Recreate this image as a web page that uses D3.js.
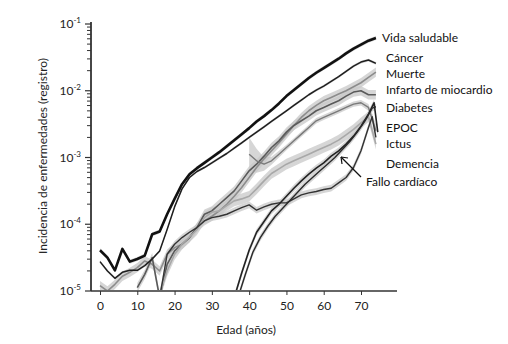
<!DOCTYPE html>
<html><head><meta charset="utf-8">
<script src="https://cdn.jsdelivr.net/npm/d3@7"></script>
<style>
html,body{margin:0;padding:0;background:#fff;}
svg{display:block;font-family:Lato,"Open Sans",sans-serif;}
</style></head>
<body><svg id="c" width="508" height="344"></svg>
<script>
// ---------- data (log10 of incidence) ----------
const agesFull = d3.range(0, 76, 2);
const vidaLog10 = [-4.39,-4.5,-4.69,-4.37,-4.56,-4.52,-4.47,-4.15,-4.11,-3.85,-3.62,-3.4,-3.25,-3.16,-3.08,-3.0,-2.92,-2.83,-2.74,-2.65,-2.56,-2.46,-2.38,-2.29,-2.19,-2.08,-1.99,-1.9,-1.81,-1.73,-1.66,-1.59,-1.52,-1.44,-1.37,-1.31,-1.25,-1.21];
const cancerLog10 = [-4.56,-4.7,-4.81,-4.72,-4.69,-4.69,-4.62,-4.52,-4.4,-4.08,-3.74,-3.47,-3.3,-3.21,-3.15,-3.08,-3.01,-2.94,-2.86,-2.78,-2.7,-2.62,-2.54,-2.46,-2.38,-2.3,-2.22,-2.14,-2.06,-1.99,-1.93,-1.86,-1.79,-1.71,-1.63,-1.57,-1.54,-1.59];
const muerteLog10 = [-4.92,-5.0,-4.9,-4.78,-4.72,-4.65,-4.55,-4.6,-4.7,-4.45,-4.35,-4.3,-4.2,-4.05,-3.95,-3.88,-3.8,-3.7,-3.58,-3.45,-3.3,-3.15,-3.02,-2.9,-2.78,-2.65,-2.52,-2.4,-2.3,-2.22,-2.15,-2.1,-2.05,-2.0,-1.94,-1.88,-1.8,-1.72];
const infartoAges = d3.range(10, 76, 2);
const infartoLog10 = [-4.95,-4.75,-4.5,-5.1,-4.6,-4.4,-4.3,-4.2,-4.05,-3.85,-3.8,-3.7,-3.6,-3.5,-3.35,-3.2,-3.1,-2.98,-2.85,-2.75,-2.62,-2.52,-2.45,-2.38,-2.3,-2.25,-2.2,-2.15,-2.08,-2.02,-2.0,-2.06,-2.06];
const diabetesAges = [16,18,20,22,24,26,28,30,32,34,36,38,40,42,44,46,48,50,52,54,56,58,60,62,64,66,68,70,72,73,74];
const diabetesLog10 = [-5.1,-4.45,-4.3,-4.2,-4.12,-4.05,-3.95,-3.9,-3.88,-3.85,-3.8,-3.75,-3.71,-3.79,-3.74,-3.7,-3.68,-3.68,-3.62,-3.56,-3.53,-3.51,-3.48,-3.46,-3.38,-3.3,-3.15,-2.9,-2.55,-2.39,-2.7];
const epocAges = d3.range(16, 76, 2);
const epocLog10 = [-5.05,-4.7,-4.45,-4.3,-4.19,-4.08,-3.9,-3.82,-3.8,-3.72,-3.65,-3.62,-3.58,-3.47,-3.35,-3.24,-3.17,-3.1,-3.05,-3.0,-2.95,-2.9,-2.85,-2.8,-2.74,-2.66,-2.58,-2.48,-2.39,-2.8];
const ictusAges = d3.range(40, 76, 2);
const ictusLog10 = [-2.95,-3.05,-3.1,-3.05,-2.95,-2.85,-2.75,-2.65,-2.55,-2.45,-2.4,-2.35,-2.3,-2.25,-2.2,-2.18,-2.25,-2.6];
const ictusBand = [0.25,0.18,0.1,0.06,0.05,0.04,0.04,0.04,0.04,0.04,0.04,0.04,0.04,0.04,0.04,0.04,0.05,0.1];
const demenciaAges = [36,38,40,42,44,46,48,50,52,54,56,58,60,62,64,66,68,70,72,73.5,74.5];
const demenciaLog10 = [-5.1,-4.73,-4.39,-4.12,-3.96,-3.8,-3.7,-3.58,-3.46,-3.35,-3.25,-3.16,-3.08,-2.98,-2.9,-2.8,-2.68,-2.53,-2.35,-2.18,-2.62];
const falloAges = [37,39,41,43,45,47,49,51,53,55,57,59,61,63,65,67,69,71,73,74];
const falloLog10 = [-5.1,-4.75,-4.42,-4.2,-4.03,-3.88,-3.76,-3.64,-3.52,-3.4,-3.3,-3.2,-3.1,-3.0,-2.88,-2.76,-2.62,-2.46,-2.26,-2.24];

const labelNames = ["Vida saludable","Cáncer","Muerte","Infarto de miocardio","Diabetes","EPOC","Ictus","Demencia","Fallo cardíaco"];
const xTicks = [0,10,20,30,40,50,60,70];
const yTickExps = [-1,-2,-3,-4,-5];

// ---------- build series ----------
const series = [
  {ages: agesFull, vals: muerteLog10, color:"#8c8c8c", w:1.6, band:0.07},
  {ages: infartoAges, vals: infartoLog10, color:"#5a5a5a", w:1.6, band:0.07},
  {ages: epocAges, vals: epocLog10, color:"#a8a8a8", w:1.6, band:0.08},
  {ages: ictusAges, vals: ictusLog10, color:"#7a7a7a", w:1.4, bandArr: ictusBand},
  {ages: diabetesAges, vals: diabetesLog10, color:"#333", w:1.4, band:0.05},
  {ages: demenciaAges, vals: demenciaLog10, color:"#222", w:1.6, band:0.05},
  {ages: falloAges, vals: falloLog10, color:"#2a2a2a", w:1.4, band:0.05},
  {ages: agesFull, vals: cancerLog10, color:"#1e1e1e", w:1.5, band:0.02},
  {ages: agesFull, vals: vidaLog10, color:"#111", w:2.6, band:0.03}
];

const svg = d3.select("#c");
const x = d3.scaleLinear().domain([0,70]).range([100,361]);
const y = d3.scaleLog().domain([1e-5,1e-1]).range([291,24]);

svg.append("clipPath").attr("id","plot").append("rect")
  .attr("x",92).attr("y",18).attr("width",300).attr("height",272);

const gPlot = svg.append("g").attr("clip-path","url(#plot)");

// bands
series.forEach(s=>{
  const pts = s.ages.map((a,i)=>({a, v:s.vals[i], b: s.bandArr ? s.bandArr[i] : s.band}));
  const area = d3.area().x(d=>x(d.a)).y0(d=>y(Math.pow(10,d.v-d.b))).y1(d=>y(Math.pow(10,d.v+d.b)));
  gPlot.append("path").attr("d",area(pts)).attr("fill","#c8c8c8").attr("opacity",0.75);
});
// lines
series.forEach(s=>{
  const pts = s.ages.map((a,i)=>({a, v:s.vals[i]}));
  const line = d3.line().x(d=>x(d.a)).y(d=>y(Math.pow(10,d.v)));
  gPlot.append("path").attr("d",line(pts)).attr("fill","none")
    .attr("stroke",s.color).attr("stroke-width",s.w).attr("stroke-linejoin","round");
});

// axes
const axCol = "#333";
const gx = svg.append("g").attr("transform","translate(0,291)")
  .call(d3.axisBottom(x).tickValues(xTicks).tickSize(4).tickPadding(6).tickFormat(d3.format("d")));
gx.select(".domain").remove();
gx.append("line").attr("x1",91).attr("x2",397).attr("y1",0).attr("y2",0).attr("stroke",axCol).attr("stroke-width",1.6);
gx.selectAll(".tick line").attr("stroke",axCol).attr("stroke-width",1);
gx.selectAll(".tick text").attr("font-size",12).attr("fill","#222").attr("font-family","Lato,sans-serif");

const minor = [];
for (let e=-5;e<-1;e++) for (let m=2;m<=9;m++) minor.push(m*Math.pow(10,e));
const gy = svg.append("g").attr("transform","translate(91,0)");
gy.append("line").attr("x1",0).attr("x2",0).attr("y1",22).attr("y2",291).attr("stroke",axCol).attr("stroke-width",1.8);
gy.selectAll("line.mi").data(minor).join("line").attr("class","mi")
  .attr("x1",-4).attr("x2",0).attr("y1",d=>y(d)).attr("y2",d=>y(d)).attr("stroke",axCol).attr("stroke-width",1);
gy.selectAll("line.ma").data(yTickExps).join("line").attr("class","ma")
  .attr("x1",-6).attr("x2",0).attr("y1",d=>y(Math.pow(10,d))).attr("y2",d=>y(Math.pow(10,d))).attr("stroke",axCol).attr("stroke-width",1.2);
const yt = gy.selectAll("text.yt").data(yTickExps).join("text").attr("class","yt")
  .attr("x",-10).attr("y",d=>y(Math.pow(10,d))+4).attr("text-anchor","end").attr("fill","#222");
yt.append("tspan").attr("font-size",12).text("10");
yt.append("tspan").attr("font-size",8).attr("dy",-5).text(d=>String(d));

svg.append("text").attr("x",246).attr("y",334).attr("text-anchor","middle")
  .attr("font-size",12).attr("fill","#222").text("Edad (años)");
svg.append("text").attr("transform","translate(47,156) rotate(-90)").attr("text-anchor","middle")
  .attr("font-size",12).attr("fill","#222").text("Incidencia de enfermedades (registro)");

// labels
const labelY = [42,62,78,94,112,132,148,168,186];
const labelX = [382,386,386,386,386,386,386,386,366];
svg.selectAll("text.lab").data(labelNames).join("text").attr("class","lab")
  .attr("x",(d,i)=>labelX[i]).attr("y",(d,i)=>labelY[i])
  .attr("font-size",12).attr("fill","#111").text(d=>d);

// arrow for Fallo cardíaco
const ag = svg.append("g").attr("stroke","#111").attr("stroke-width",1.2).attr("fill","none");
ag.append("line").attr("x1",361).attr("y1",177).attr("x2",341).attr("y2",157);
ag.append("path").attr("d","M341,157 L342,164 M341,157 L348,158");
</script></body></html>
